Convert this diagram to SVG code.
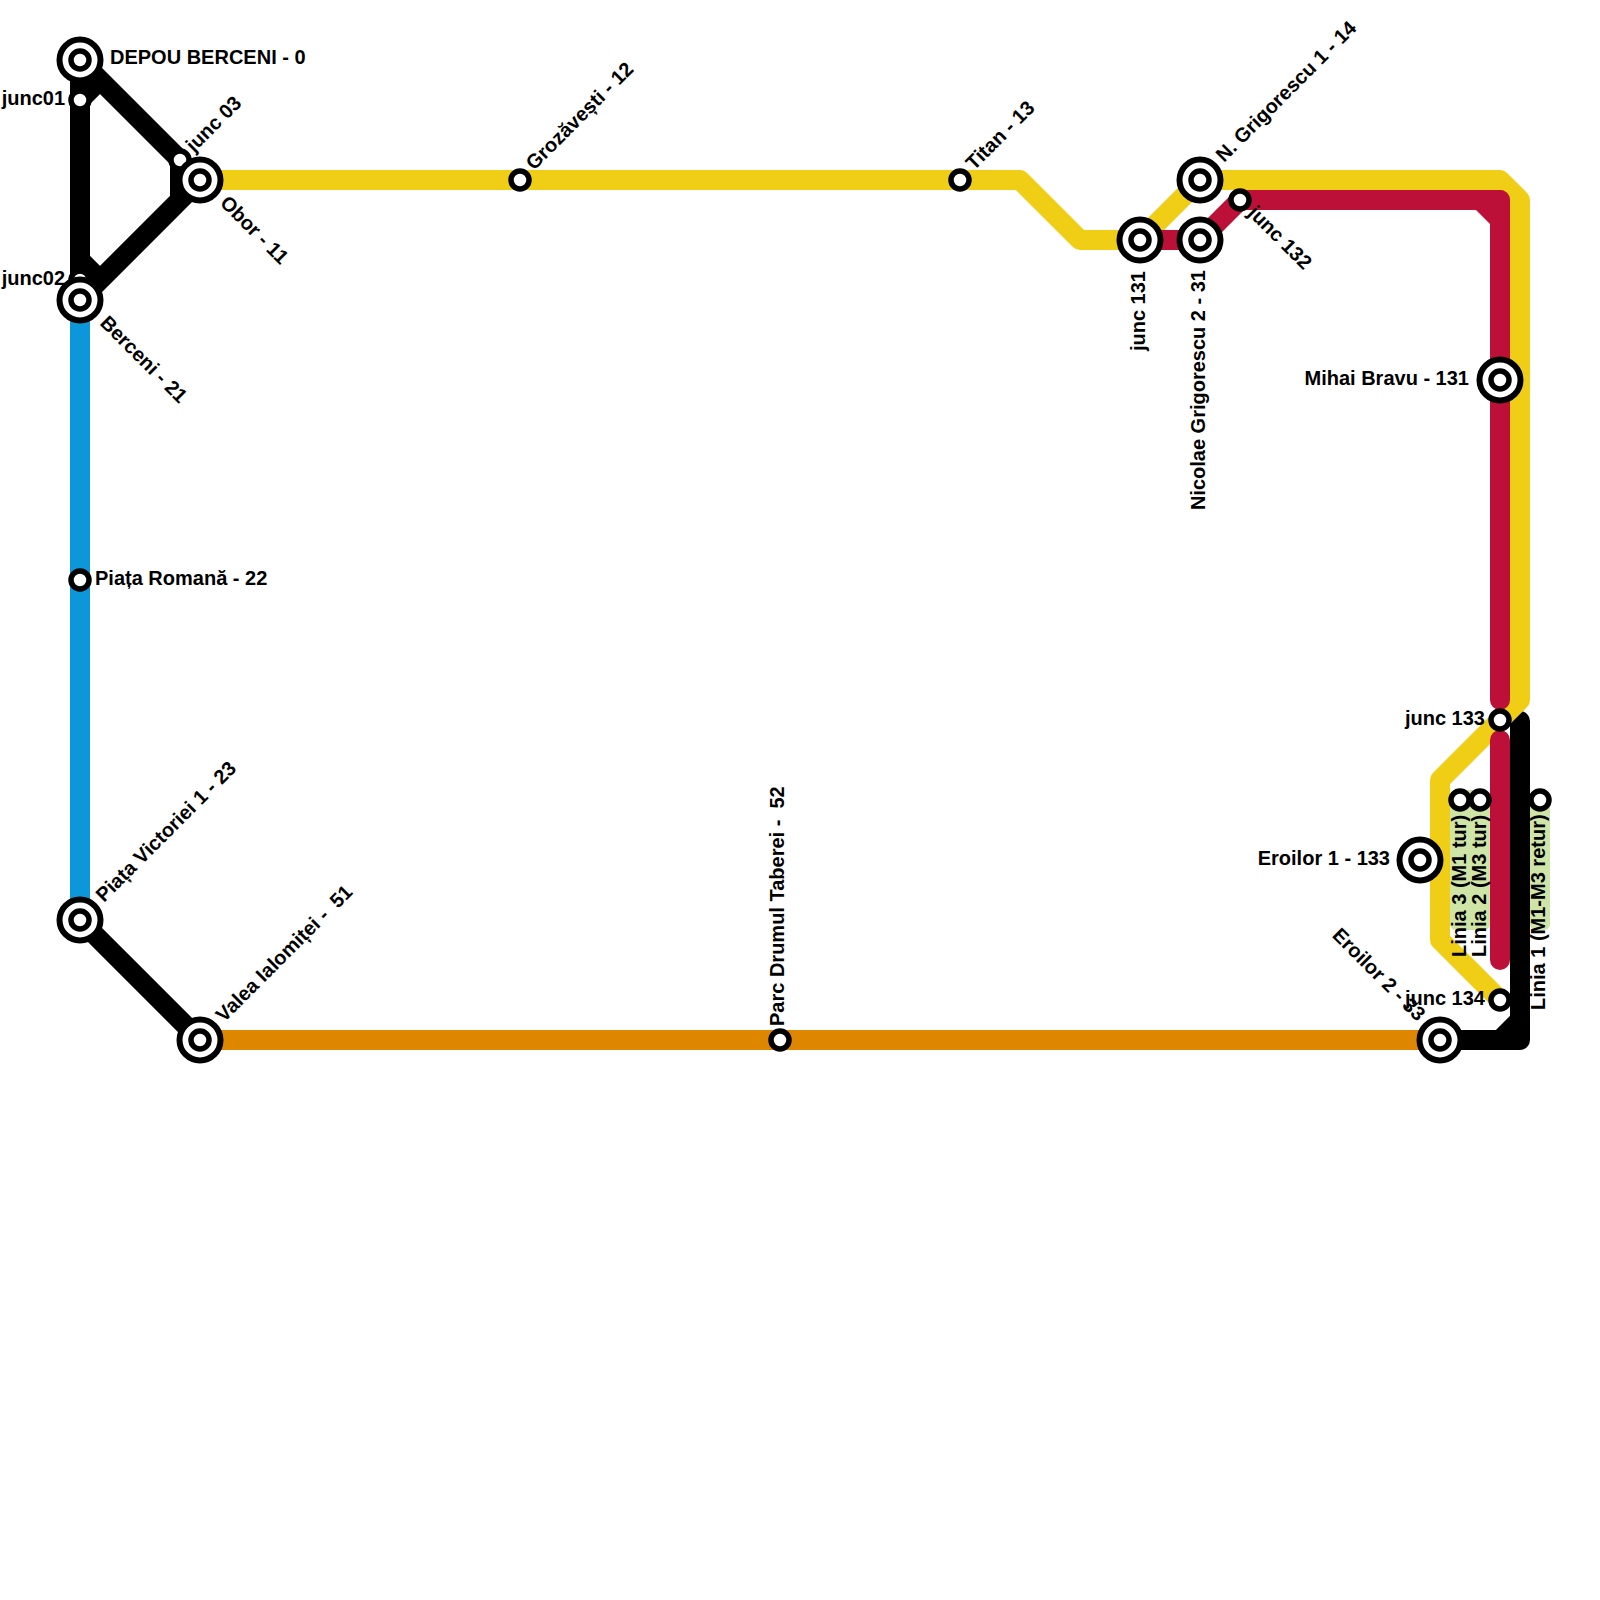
<svg xmlns="http://www.w3.org/2000/svg" width="1600" height="1600" viewBox="0 0 1600 1600">
<style>
.l{fill:none;stroke-width:20;stroke-linejoin:round;stroke-linecap:butt}
.y{stroke:#f0ce15}.r{stroke:#bd1038}.k{stroke:#000}.b{stroke:#0b97d9}.o{stroke:#df8600}
.rc{stroke-linecap:round}
.g{fill:#cfe4a7}
.ro{fill:#fff;stroke:#000;stroke-width:6}
.ri{fill:#fff;stroke:#000;stroke-width:5.5}
text{font-family:"Liberation Sans",Arial,sans-serif;font-weight:700;font-size:20px;fill:#000;white-space:pre}
.e{text-anchor:end}
</style>
<g id="connectors">
<rect class="g" x="1450" y="790" width="40" height="140" rx="6"/>
<rect class="g" x="1530" y="790" width="20" height="140" rx="6"/>
<path class="l b" d="M80 300V920"/>
<path class="l o" d="M200 1040H1440"/>
<path class="l k rc" d="M1440 1040H1520V721M1500 1040L1520 1020"/>
<path class="l y" d="M200 180H1020L1080 240H1140L1200 180H1500L1520 200V700L1500 720L1440 780V940L1500 1000"/>
<path class="l r" d="M1140 240H1200L1240 200H1500V220"/>
<path class="l r rc" d="M1500 200V700"/>
<path class="l r rc" d="M1500 740V960"/>
<path d="M1476 210L1490 224V210Z" fill="#bd1038"/>
<path class="l k" d="M80 60V300M80 60L180 160V200M200 180L80 300M80 100L100 80M80 260L100 280"/>
<path class="l k" d="M80 920L200 1040"/>
</g>
<g id="n-depou"><circle class="ro" cx="80" cy="60" r="20.5"/><circle class="ri" cx="80" cy="60" r="9"/><text x="110" y="64">DEPOU BERCENI - 0</text></g>
<g id="n-junc01"><circle class="ri" cx="80" cy="100" r="9"/><text class="e" x="65" y="105">junc01</text></g>
<g id="n-junc03"><circle class="ri" cx="180" cy="160" r="9"/><text transform="translate(194 153) rotate(-45)">junc 03</text></g>
<g id="n-obor"><circle class="ro" cx="200" cy="180" r="20.5"/><circle class="ri" cx="200" cy="180" r="9"/><text transform="translate(219 204) rotate(45)">Obor - 11</text></g>
<g id="n-junc02"><circle class="ri" cx="80" cy="280" r="9"/><text class="e" x="65" y="285">junc02</text></g>
<g id="n-berceni"><circle class="ro" cx="80" cy="300" r="20.5"/><circle class="ri" cx="80" cy="300" r="9"/><text transform="translate(99 324) rotate(45)">Berceni - 21</text></g>
<g id="n-romana"><circle class="ri" cx="80" cy="580" r="9"/><text x="95" y="585">Piața Romană - 22</text></g>
<g id="n-victoriei"><circle class="ro" cx="80" cy="920" r="20.5"/><circle class="ri" cx="80" cy="920" r="9"/><text transform="translate(104 903) rotate(-45)">Piața Victoriei 1 - 23</text></g>
<g id="n-valea"><circle class="ro" cx="200" cy="1040" r="20.5"/><circle class="ri" cx="200" cy="1040" r="9"/><text transform="translate(224 1023) rotate(-45)">Valea Ialomiței -  51</text></g>
<g id="n-parc"><circle class="ri" cx="780" cy="1040" r="9"/><text transform="translate(784 1026) rotate(-90)">Parc Drumul Taberei -  52</text></g>
<g id="n-grozavesti"><circle class="ri" cx="520" cy="180" r="9"/><text transform="translate(534 171) rotate(-45)">Grozăvești - 12</text></g>
<g id="n-titan"><circle class="ri" cx="960" cy="180" r="9"/><text transform="translate(974 171) rotate(-45)">Titan - 13</text></g>
<g id="n-junc131"><circle class="ro" cx="1140" cy="240" r="20.5"/><circle class="ri" cx="1140" cy="240" r="9"/><text class="e" transform="translate(1145 271) rotate(-90)">junc 131</text></g>
<g id="n-grig1"><circle class="ro" cx="1200" cy="180" r="20.5"/><circle class="ri" cx="1200" cy="180" r="9"/><text transform="translate(1224 163) rotate(-45)">N. Grigorescu 1 - 14</text></g>
<g id="n-grig2"><circle class="ro" cx="1200" cy="240" r="20.5"/><circle class="ri" cx="1200" cy="240" r="9"/><text class="e" transform="translate(1205 270) rotate(-90)">Nicolae Grigorescu 2 - 31</text></g>
<g id="n-junc132"><circle class="ri" cx="1240" cy="200" r="9"/><text transform="translate(1247 214) rotate(45)">junc 132</text></g>
<g id="n-mihai"><circle class="ro" cx="1500" cy="380" r="20.5"/><circle class="ri" cx="1500" cy="380" r="9"/><text class="e" x="1469" y="385">Mihai Bravu - 131</text></g>
<g id="n-junc133"><circle class="ri" cx="1500" cy="720" r="9"/><text class="e" x="1485" y="725">junc 133</text></g>
<g id="n-eroilor1"><circle class="ro" cx="1420" cy="860" r="20.5"/><circle class="ri" cx="1420" cy="860" r="9"/><text class="e" x="1390" y="865">Eroilor 1 - 133</text></g>
<g id="n-junc134"><circle class="ri" cx="1500" cy="1000" r="9"/><text class="e" x="1485" y="1005">junc 134</text></g>
<g id="n-eroilor2"><circle class="ro" cx="1440" cy="1040" r="20.5"/><circle class="ri" cx="1440" cy="1040" r="9"/><text class="e" transform="translate(1417 1022) rotate(45)">Eroilor 2 - 33</text></g>
<g id="n-linia3"><circle class="ri" cx="1460" cy="800" r="9"/><text transform="translate(1466 957) rotate(-90)">Linia 3 (M1 tur)</text></g>
<g id="n-linia2"><circle class="ri" cx="1480" cy="800" r="9"/><text transform="translate(1486 957) rotate(-90)">Linia 2 (M3 tur)</text></g>
<g id="n-linia1"><circle class="ri" cx="1540" cy="800" r="9"/><text transform="translate(1545 1010) rotate(-90)">Linia 1 (M1-M3 retur)</text></g>
</svg>
